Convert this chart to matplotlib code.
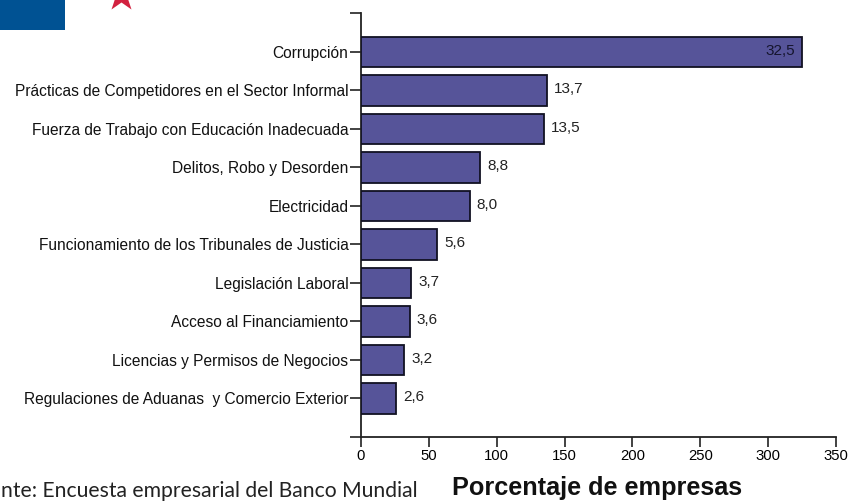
import matplotlib
matplotlib.use('Agg')
import matplotlib.pyplot as plt
from matplotlib.patches import Rectangle

categorias = ["Corrupción", "Prácticas de Competidores en el Sector Informal",
              "Fuerza de Trabajo con Educación Inadecuada", "Delitos, Robo y Desorden",
              "Electricidad", "Funcionamiento de los Tribunales de Justicia",
              "Legislación Laboral", "Acceso al Financiamiento",
              "Licencias y Permisos de Negocios",
              "Regulaciones de Aduanas  y Comercio Exterior"]
valores = [325, 137, 135, 88, 80, 56, 37, 36, 32, 26]
etiquetas = ["32,5", "13,7", "13,5", "8,8", "8,0", "5,6", "3,7", "3,6", "3,2", "2,6"]
ticks_x = [0, 50, 100, 150, 200, 250, 300, 350]

plt.rcParams['font.family'] = ['Liberation Sans', 'DejaVu Sans']
W, H = 850, 501
fig = plt.figure(figsize=(W / 100, H / 100), dpi=100)

# axes box in pixels of the reference
x0, x1, y_top, y_bot = 361, 836, 13.5, 437
ax = fig.add_axes([x0 / W, 1 - y_bot / H, (x1 - x0) / W, (y_bot - y_top) / H])

pos = list(range(len(categorias)))
ax.barh(pos, valores, height=0.8, color='#565499', edgecolor='#111122', linewidth=1.3, zorder=3)

for i, (v, et) in enumerate(zip(valores, etiquetas)):
    if v > 300:
        ax.annotate(et, (v, i), xytext=(-5, 1), textcoords='offset points', ha='right',
                    va='center', fontsize=11, color='#15152e', zorder=4)
    else:
        ax.annotate(et, (v, i), xytext=(5, 1), textcoords='offset points', ha='left',
                    va='center', fontsize=11, color='#222222', zorder=4)

ax.set_xlim(0, 350)
ax.set_ylim(10, -1)
ax.set_xticks(ticks_x)
ax.set_yticks([-1] + pos + [10])
ax.set_yticklabels([""] + categorias + [""], fontsize=11.2, color='#111111')
ax.tick_params(axis='y', length=8, width=1.2, pad=1, color='#222222')
ax.tick_params(axis='x', length=7, width=1.2, pad=2, labelsize=10.7, color='#222222', direction='out')
for s in ['top', 'right']:
    ax.spines[s].set_visible(False)
for s in ['left', 'bottom']:
    ax.spines[s].set_linewidth(1.3)
    ax.spines[s].set_color('#222222')

# bit of the flag cut off at the top left
fig.add_artist(Rectangle((0, 1 - 30 / H), 65 / W, 30 / H, transform=fig.transFigure,
                         facecolor='#005293', edgecolor='none'))
fig.add_artist(plt.Line2D([121 / W], [1 + 5 / H], marker='*', markersize=25, color='#d2213f',
                          markeredgecolor='none', transform=fig.transFigure))

# the reference only shows the end of this line
fig.text(1 / W, 1 - 491 / H, "nte: Encuesta empresarial del Banco Mundial", ha='left',
         va='center', fontsize=15.2, family=['Lato', 'DejaVu Sans'], color='#222222')
fig.text(452 / W, 1 - 488 / H, "Porcentaje de empresas", ha='left', va='center',
         fontsize=18.2, fontweight='bold', color='#111111')

fig.savefig('out.png', dpi=100)
